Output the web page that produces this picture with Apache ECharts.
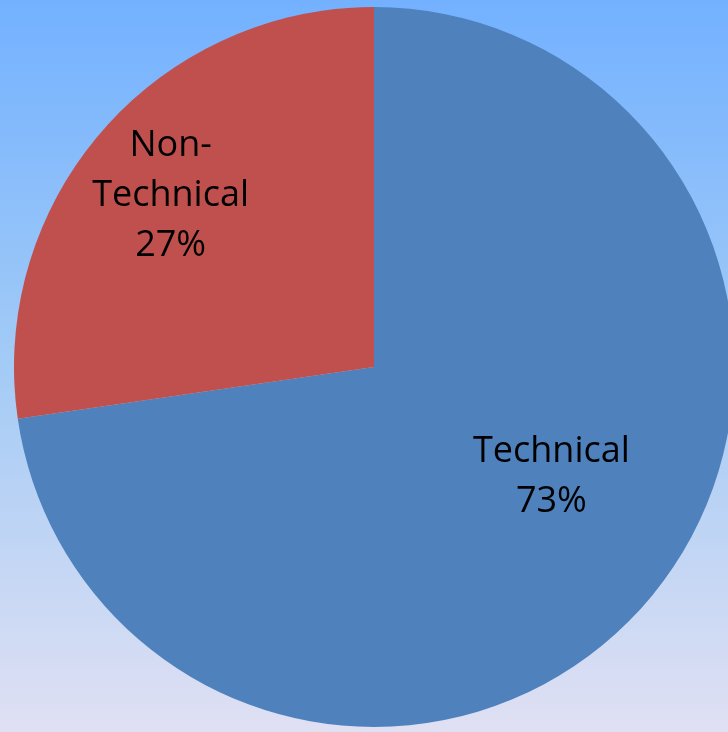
<!DOCTYPE html>
<html>
<head>
<meta charset="utf-8">
<script src="https://cdn.jsdelivr.net/npm/echarts@6/dist/echarts.min.js"></script>
<style>
html,body{margin:0;padding:0;}
#chart{width:728px;height:732px;}
</style>
</head>
<body>
<div id="chart"></div>
<script>
const categories = ["Technical", "Non-Technical"];
const labelTexts = ["Technical", "Non-\nTechnical"];
const values = [72.7, 27.3];
const colors = ["#4f81bd", "#c0504d"];
const labelOffsets = [[39, -10], [-65, -52]];

const chart = echarts.init(document.getElementById('chart'), null, {renderer: 'canvas'});
const data = categories.map((c, i) => ({
  name: c,
  value: values[i],
  itemStyle: {color: colors[i]},
  label: {
    formatter: (p) => labelTexts[i] + "\n" + Math.round(p.percent) + "%"
  }
}));

chart.setOption({
  backgroundColor: {
    type: 'linear', x: 0, y: 0, x2: 0, y2: 1,
    colorStops: [
      {offset: 0, color: '#73b1ff'},
      {offset: 0.5, color: '#a3cbf6'},
      {offset: 1, color: '#e0e0f3'}
    ]
  },
  animation: false,
  series: [{
    type: 'pie',
    center: [374, 367],
    radius: 360,
    startAngle: 90,
    clockwise: true,
    silent: true,
    data: data,
    itemStyle: {borderWidth: 0},
    label: {
      show: true,
      position: 'inside',
      color: '#000',
      fontFamily: '"Open Sans", Lato, sans-serif',
      fontSize: 36,
      lineHeight: 50,
      align: 'center'
    },
    labelLine: {show: false},
    labelLayout: function (params) {
      const o = labelOffsets[params.dataIndex];
      return {dx: o[0], dy: o[1]};
    }
  }]
});
</script>
</body>
</html>
